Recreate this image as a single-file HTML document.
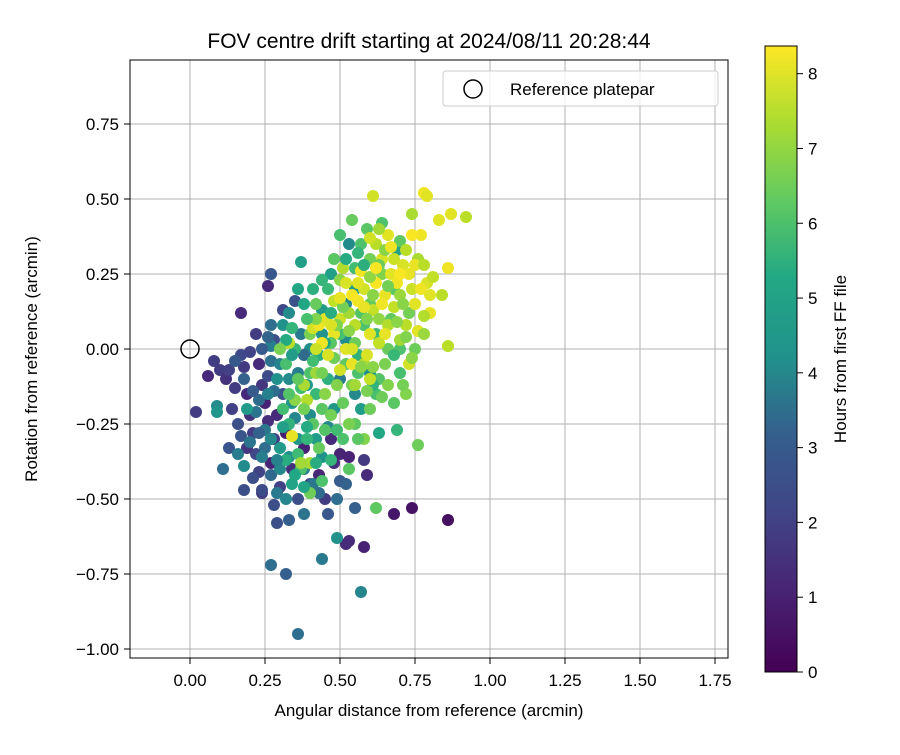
<!DOCTYPE html>
<html><head><meta charset="utf-8"><style>
body{margin:0;background:#fff}
text{font-family:"Liberation Sans","DejaVu Sans",sans-serif;fill:#000}
</style></head><body>
<svg id="chart" width="900" height="750" xmlns="http://www.w3.org/2000/svg">
<defs>
<linearGradient id="vir" x1="0" y1="1" x2="0" y2="0">
<stop offset="0" stop-color="#440154"/><stop offset="0.13" stop-color="#482475"/><stop offset="0.25" stop-color="#414487"/><stop offset="0.38" stop-color="#355f8d"/><stop offset="0.5" stop-color="#21918c"/><stop offset="0.63" stop-color="#22a884"/><stop offset="0.75" stop-color="#5ec962"/><stop offset="0.88" stop-color="#addc30"/><stop offset="1" stop-color="#fde725"/>
</linearGradient>
<clipPath id="clip"><rect x="130" y="60" width="598" height="598"/></clipPath>
</defs>
<g id="grid"></g>
<g id="points" clip-path="url(#clip)"></g>
<rect x="130" y="60" width="598" height="598" fill="none" stroke="#000" stroke-width="1"/>
<g id="ticks"></g>
<text x="429" y="48" font-size="21" text-anchor="middle">FOV centre drift starting at 2024/08/11 20:28:44</text>
<text x="429" y="716" font-size="17" text-anchor="middle">Angular distance from reference (arcmin)</text>
<text x="37" y="359" font-size="17" text-anchor="middle" transform="rotate(-90 37 359)">Rotation from reference (arcmin)</text>
<g>
<rect x="443" y="71" width="275" height="35" rx="3" fill="#fff" fill-opacity="0.8" stroke="#ccc"/>
<circle cx="473" cy="89" r="9" fill="none" stroke="#000" stroke-width="1.5"/>
<text x="510" y="95" font-size="17">Reference platepar</text>
</g>
<rect x="765" y="46" width="32" height="626" fill="url(#vir)" stroke="#000"/>
<g id="cbticks"></g>
<text x="846" y="359" font-size="17" text-anchor="middle" transform="rotate(-90 846 359)">Hours from first FF file</text>
</svg>
<script>
const xTicks=[0,0.25,0.5,0.75,1,1.25,1.5,1.75];
const xTickLabels=["0.00","0.25","0.50","0.75","1.00","1.25","1.50","1.75"];
const yTicks=[0.75,0.5,0.25,0,-0.25,-0.5,-0.75,-1];
const yTickLabels=["0.75","0.50","0.25","0.00","\u22120.25","\u22120.50","\u22120.75","\u22121.00"];
const cbTicks=[0,1,2,3,4,5,6,7,8];
const xs=[],ys=[],hs=[];
const pts=[
[0.61,0.51,7.8],[0.78,0.52,8.2],[0.79,0.51,8],[0.87,0.45,8],[0.92,0.44,7.5],[0.83,0.43,8],[0.74,0.45,7.3],
[0.86,0.27,8.2],[0.86,0.01,7.5],[0.84,0.18,7.5],[0.27,0.25,2.3],[0.26,0.21,1],[0.37,0.29,4.7],[0.17,0.12,1],
[0.02,-0.21,1.5],[0.06,-0.09,1],[0.08,-0.04,1.5],[0.1,-0.07,1.5],[0.11,-0.40,3],[0.09,-0.19,4],[0.09,-0.21,4.3],
[0.86,-0.57,0.3],[0.74,-0.53,0.4],[0.68,-0.55,0.5],[0.58,-0.66,0.8],[0.53,-0.64,1],[0.52,-0.65,1],
[0.57,-0.81,3.8],[0.36,-0.95,3],[0.32,-0.75,2.5],[0.27,-0.72,3],[0.44,-0.70,3.4],[0.49,-0.63,4.2],
[0.62,-0.53,6.3],[0.55,-0.53,2.5],[0.59,-0.42,1],[0.76,-0.32,6.5],[0.69,-0.27,5.5],[0.63,-0.28,5],
[0.29,-0.58,2],[0.33,-0.57,2.5],[0.28,-0.52,2],[0.24,-0.48,1.5],[0.18,-0.47,2],
[0.12,-0.10,1.2],[0.15,-0.13,1.5],[0.14,-0.20,1.6],[0.17,-0.02,1.8],[0.18,-0.06,1.4],[0.19,-0.15,1.0],[0.20,-0.22,1.2],[0.21,-0.28,1.5],[0.22,-0.35,1.8],[0.16,-0.25,2.0],[0.17,-0.29,2.2],[0.23,-0.05,1.0],[0.24,-0.12,1.3],[0.25,-0.18,0.8],[0.26,-0.24,1.1],[0.23,-0.41,1.7],[0.21,-0.43,2.0],[0.28,-0.30,1.4],[0.27,-0.38,0.9],[0.30,-0.46,1.6],[0.31,-0.15,2.1],[0.26,-0.09,1.9],[0.20,-0.01,1.7],[0.22,0.05,1.5],[0.13,-0.07,1.6],[0.19,-0.33,1.3],[0.24,-0.47,1.9],[0.34,-0.40,1.2],[0.38,-0.33,0.8],[0.43,-0.42,0.9],[0.47,-0.30,1.0],[0.50,-0.35,0.9],[0.53,-0.36,0.8],[0.48,-0.38,1.1],[0.45,-0.50,1.5],[0.40,-0.45,1.7],[0.36,-0.50,2.0],[0.46,-0.55,2.3],[0.50,-0.44,2.4],[0.58,-0.37,1.4],[0.13,-0.33,2.2],[0.29,-0.22,1.0],[0.32,-0.28,0.7],[0.35,0.16,2.1],[0.31,0.13,1.8],[0.28,0.03,2.0],
[0.16,-0.35,3.5],[0.18,-0.39,4.0],[0.20,-0.31,3.2],[0.25,-0.33,3.0],[0.27,-0.42,2.8],[0.29,-0.48,3.4],[0.32,-0.50,3.8],[0.30,-0.40,3.9],[0.33,-0.36,4.2],[0.36,-0.30,4.4],[0.38,-0.40,3.6],[0.35,-0.23,3.8],[0.28,-0.14,3.0],[0.27,-0.04,3.1],[0.27,0.01,3.5],[0.27,0.08,3.0],[0.31,0.08,4.2],[0.30,-0.05,3.7],[0.33,-0.10,4.0],[0.34,-0.18,4.3],[0.36,-0.08,3.5],[0.39,-0.12,4.5],[0.40,-0.22,4.0],[0.42,-0.30,4.6],[0.44,-0.36,4.2],[0.46,-0.26,3.9],[0.48,-0.20,4.4],[0.41,-0.45,3.3],[0.38,-0.55,3.2],[0.43,-0.48,2.9],[0.49,-0.50,3.0],[0.52,-0.45,2.6],[0.25,-0.27,3.3],[0.23,-0.17,2.9],[0.26,-0.15,3.6],[0.22,-0.21,3.2],[0.37,0.05,3.4],[0.40,0.00,4.1],[0.38,-0.02,2.9],[0.44,0.05,4.3],[0.45,0.12,3.8],[0.52,0.03,4.1],[0.50,-0.10,3.4],[0.55,-0.15,3.9],[0.60,-0.08,4.2],[0.57,-0.20,4.6],[0.53,0.35,4.0],[0.47,0.25,4.7],[0.55,0.20,4.5],[0.44,0.13,4.5],[0.52,0.15,3.9],[0.69,0.33,4.8],[0.30,-0.33,4.5],[0.19,-0.20,4.5],[0.34,-0.45,4.8],
[0.35,0.00,5.5],[0.37,-0.13,5.8],[0.40,-0.08,6.0],[0.42,-0.15,5.6],[0.44,-0.20,6.2],[0.46,-0.10,5.3],[0.48,-0.03,6.5],[0.50,0.05,5.9],[0.52,-0.05,6.3],[0.54,-0.12,6.6],[0.56,-0.02,5.4],[0.58,0.08,6.0],[0.60,0.15,6.4],[0.62,0.05,5.7],[0.63,-0.10,6.1],[0.65,-0.05,6.7],[0.67,0.10,6.3],[0.70,0.00,6.0],[0.72,-0.15,6.8],[0.70,-0.08,5.9],[0.75,0.00,6.5],[0.68,0.20,6.2],[0.64,0.25,6.8],[0.60,0.30,6.6],[0.57,0.35,6.0],[0.54,0.43,6.4],[0.59,0.40,6.2],[0.64,0.42,6.0],[0.70,0.36,6.3],[0.55,0.27,5.8],[0.50,0.23,6.9],[0.48,0.30,6.2],[0.46,0.20,5.6],[0.42,0.15,6.4],[0.40,0.05,6.7],[0.43,-0.02,5.2],[0.45,-0.27,6.1],[0.47,-0.37,5.5],[0.51,-0.30,6.0],[0.55,-0.25,6.3],[0.60,-0.20,6.5],[0.62,-0.15,5.9],[0.58,-0.30,6.8],[0.53,-0.40,6.2],[0.49,-0.27,5.8],[0.39,-0.30,5.5],[0.37,-0.40,6.0],[0.36,-0.35,5.7],[0.40,-0.48,6.5],[0.33,-0.25,5.4],[0.32,-0.05,5.9],[0.34,0.07,5.5],[0.41,0.20,5.3],[0.44,0.23,5.5],[0.57,0.12,6.1],[0.66,0.00,6.4],[0.73,0.12,6.6],[0.68,-0.02,5.6],[0.61,-0.12,5.4],[0.56,-0.08,6.0],
[0.33,0.02,7.5],[0.38,-0.12,7.3],[0.41,0.07,7.8],[0.43,0.08,8.2],[0.46,-0.02,7.9],[0.48,0.05,8.1],[0.50,0.10,7.7],[0.52,0.00,8.0],[0.53,0.12,7.2],[0.55,0.08,7.5],[0.56,0.16,8.2],[0.58,0.20,7.8],[0.58,-0.05,7.3],[0.60,0.05,8.0],[0.61,0.13,7.6],[0.62,0.22,8.3],[0.63,0.10,7.0],[0.64,0.30,7.9],[0.65,0.18,8.1],[0.66,0.08,7.4],[0.67,0.25,8.0],[0.68,0.14,7.6],[0.69,0.22,8.2],[0.70,0.18,7.1],[0.71,0.28,7.9],[0.72,0.08,7.5],[0.73,0.25,8.1],[0.74,0.20,7.7],[0.75,0.15,8.0],[0.76,0.30,7.3],[0.77,0.38,8.2],[0.79,0.22,7.9],[0.80,0.12,8.1],[0.81,0.24,7.6],[0.78,0.11,7.4],[0.76,0.06,8.0],[0.74,0.38,8.3],[0.66,0.38,8.0],[0.62,0.35,7.5],[0.57,0.26,8.2],[0.52,0.22,7.9],[0.48,0.16,7.6],[0.45,0.10,8.0],[0.50,-0.07,7.8],[0.55,-0.12,7.2],[0.54,-0.05,8.1],[0.59,-0.02,7.9],[0.63,0.02,7.6],[0.70,0.03,7.2],[0.73,-0.05,7.8],[0.60,0.24,7.0],[0.42,-0.08,7.1],[0.39,-0.17,7.4],[0.34,-0.29,8.1],[0.40,-0.38,7.3],[0.37,-0.38,7.2],[0.51,0.27,7.4],[0.54,0.18,8.3],[0.64,0.15,8.2],[0.68,0.30,7.7],
[0.36,-0.10,6.3],[0.38,-0.20,6.6],[0.41,-0.25,6.2],[0.43,-0.33,6.4],[0.45,-0.15,6.9],[0.47,-0.22,6.6],[0.49,-0.12,6.8],[0.51,-0.18,6.4],[0.53,-0.25,6.7],[0.56,-0.30,6.2],[0.59,-0.14,6.7],[0.61,-0.06,6.9],[0.64,-0.16,6.5],[0.66,-0.12,6.8],[0.68,-0.18,6.2],[0.71,-0.12,6.6],[0.35,-0.17,6.9],[0.33,-0.15,6.1],[0.31,-0.20,5.8],[0.32,-0.37,5.2],[0.35,-0.42,5.0],[0.38,-0.46,4.9],[0.42,-0.38,5.2],[0.44,-0.44,6.0],[0.39,-0.26,5.1],[0.41,-0.04,5.8],[0.44,-0.08,6.6],[0.47,0.02,6.2],[0.49,0.08,6.8],[0.51,0.14,6.6],[0.53,0.06,6.9],[0.55,0.02,6.5],[0.57,-0.06,6.9],[0.59,0.10,6.8],[0.61,0.18,6.9],[0.63,0.28,6.5],[0.65,0.33,6.9],[0.66,0.21,6.6],[0.69,0.09,6.9],[0.71,0.15,6.9],[0.72,0.04,6.8],[0.74,-0.03,6.9],[0.56,0.32,5.5],[0.58,0.28,5.3],[0.52,0.30,5.1],[0.50,0.38,5.9],[0.47,0.12,5.2],[0.45,0.02,5.0],[0.42,0.10,6.8],[0.39,0.10,5.9],[0.38,0.15,5.0],[0.36,0.20,4.9],[0.34,-0.02,4.6],[0.32,0.03,5.1],[0.30,0.00,6.7],[0.29,-0.10,4.2],[0.31,-0.26,4.7],[0.29,-0.37,3.7],[0.27,-0.30,3.9],[0.24,-0.36,3.5],[0.23,-0.28,2.6],[0.21,-0.14,2.4],[0.18,-0.10,2.6],[0.15,-0.04,2.3],[0.24,0.00,2.4],[0.26,0.04,2.7],[0.33,0.12,4.0],[0.60,0.37,7.8],[0.63,0.40,7.2],[0.67,0.34,8.2],[0.70,0.25,8.3],[0.72,0.33,7.5],[0.75,0.28,8.1],[0.77,0.20,8.2],[0.78,0.28,7.5],[0.80,0.18,8.0],[0.78,0.05,7.1],[0.62,0.27,8.3],[0.58,0.14,8.1],[0.56,0.22,8.0],[0.54,0.00,7.9],[0.50,0.17,8.1],[0.47,0.08,7.9],[0.44,0.02,8.2],[0.42,0.00,7.7],[0.60,-0.10,7.6],[0.65,0.05,8.1]
];
pts.forEach(p=>{xs.push(p[0]);ys.push(p[1]);hs.push(p[2]);});
const NS="http://www.w3.org/2000/svg";
const X=v=>190+v*300, Y=v=>349-v*300, CB=v=>672-v*(626/8.37);
const vir=[[68,1,84],[72,36,117],[65,68,135],[53,95,141],[42,120,142],[33,145,140],[34,168,132],[68,190,112],[122,209,81],[189,223,38],[253,231,37]];
function col(h){let t=Math.max(0,Math.min(1,h/8.37))*10,i=Math.min(9,Math.floor(t)),f=t-i,a=vir[i],b=vir[i+1];return `rgb(${a.map((c,k)=>Math.round(c+(b[k]-c)*f)).join(',')})`;}
function mk(tag,attrs,parent){const e=document.createElementNS(NS,tag);for(const k in attrs)e.setAttribute(k,attrs[k]);parent.appendChild(e);return e;}
const grid=document.getElementById('grid'),ticks=document.getElementById('ticks'),g=document.getElementById('points'),cb=document.getElementById('cbticks');
xTicks.forEach((v,i)=>{
 const l=mk('line',{x1:X(v),x2:X(v),y1:60,y2:658,stroke:'#b0b0b0','stroke-width':1},grid);
 
 
 mk('line',{x1:X(v),x2:X(v),y1:658,y2:664,stroke:'#000'},ticks);
 const t=mk('text',{x:X(v),y:686,'font-size':17,'text-anchor':'middle'},ticks);t.textContent=xTickLabels[i];
 
 
});
yTicks.forEach((v,i)=>{
 const l=mk('line',{x1:130,x2:728,y1:Y(v),y2:Y(v),stroke:'#b0b0b0','stroke-width':1},grid);
 
 
 mk('line',{x1:124,x2:130,y1:Y(v),y2:Y(v),stroke:'#000'},ticks);
 const t=mk('text',{x:119,y:Y(v)+6,'font-size':17,'text-anchor':'end'},ticks);t.textContent=yTickLabels[i];
 
 
});
cbTicks.forEach(v=>{
 mk('line',{x1:797,x2:803,y1:CB(v),y2:CB(v),stroke:'#000'},cb);
 const t=mk('text',{x:808,y:CB(v)+6,'font-size':17},cb);t.textContent=String(v);
 
 
});
for(let i=0;i<xs.length;i++){
 const c=mk('circle',{cx:X(xs[i]),cy:Y(ys[i]),r:6,fill:col(hs[i])},g);
 
 
}
const ref=mk('circle',{cx:X(0),cy:Y(0),r:9,fill:'none',stroke:'#000','stroke-width':1.5},g);


</script>
</body></html>
